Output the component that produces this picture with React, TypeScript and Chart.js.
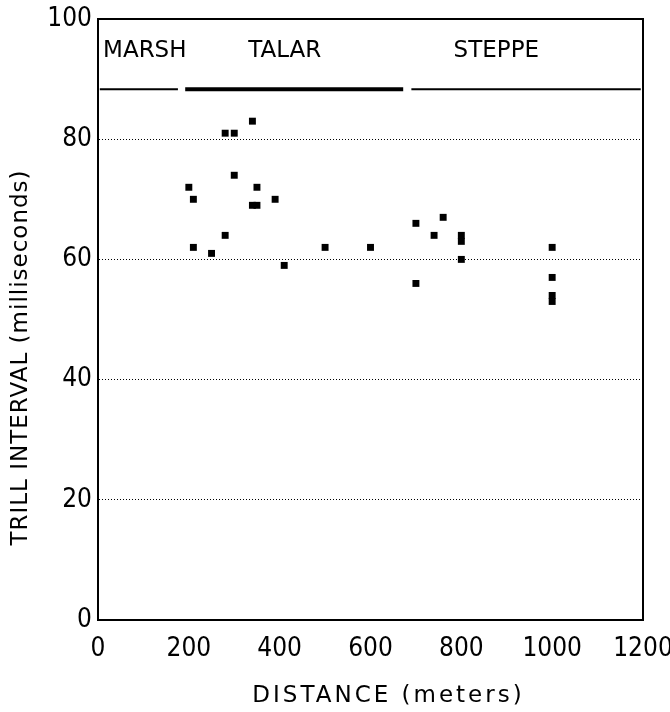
import React, { useEffect, useRef } from "react";
import { Chart, registerables } from "chart.js";

Chart.register(...registerables);

// Data
const distance = [200, 210, 210, 250, 280, 280, 300, 300, 340, 340, 350, 350, 390, 410, 500, 600, 700, 700, 740, 760, 800, 800, 800, 1000, 1000, 1000, 1000];
const trillInterval = [72, 70, 62, 61, 81, 64, 81, 74, 83, 69, 72, 69, 70, 59, 62, 62, 66, 56, 64, 67, 64, 63, 60, 62, 57, 54, 53];

const habitatNames = ["MARSH", "TALAR", "STEPPE"];
const habitatStart = [4, 192, 690];
const habitatEnd = [176, 672, 1195];
const habitatLabelX = [103, 411, 877];
const habitatLineY = 88.3;
const habitatLabelY = 94.6;

const xTicks = [0, 200, 400, 600, 800, 1000, 1200];
const yTicks = [0, 20, 40, 60, 80, 100];

const xTitle = "DISTANCE (meters)";
const yTitle = "TRILL INTERVAL (milliseconds)";

const FONT = "'DejaVu Sans', sans-serif";
const NUM_FONT = "'DejaVu Sans Condensed', 'DejaVu Sans', sans-serif";

const framePlugin = {
  id: "frame",
  afterDraw(chart: any) {
    const { ctx, chartArea: a, scales } = chart;
    ctx.save();
    ctx.strokeStyle = "#000";
    ctx.lineWidth = 2;
    ctx.strokeRect(a.left, a.top, a.right - a.left, a.bottom - a.top);
    // habitat labels
    ctx.fillStyle = "#000";
    ctx.font = `23px ${FONT}`;
    ctx.textAlign = "center";
    ctx.textBaseline = "middle";
    habitatNames.forEach((n, i) => {
      ctx.fillText(n, scales.x.getPixelForValue(habitatLabelX[i]), scales.y.getPixelForValue(habitatLabelY));
    });
    // x title
    ctx.font = `23px ${FONT}`;
    (ctx as any).letterSpacing = "3px";
    ctx.textBaseline = "alphabetic";
    ctx.fillText(xTitle, (a.left + a.right) / 2 + 18, a.bottom + 82);
    // y title
    (ctx as any).letterSpacing = "1px";
    ctx.textBaseline = "middle";
    ctx.translate(21, (a.top + a.bottom) / 2 + 38);
    ctx.rotate(-Math.PI / 2);
    ctx.fillText(yTitle, 0, 0);
    ctx.restore();
  },
};

export default function App() {
  const ref = useRef<HTMLCanvasElement>(null);
  useEffect(() => {
    if (!ref.current) return;
    const habitatSets = habitatNames.map((n, i) => ({
      type: "line" as const,
      label: n,
      data: [
        { x: habitatStart[i], y: habitatLineY },
        { x: habitatEnd[i], y: habitatLineY },
      ],
      borderColor: "#000",
      borderWidth: i === 1 ? 4 : 2,
      pointRadius: 0,
      showLine: true,
    }));
    const chart = new Chart(ref.current, {
      type: "scatter",
      data: {
        datasets: [
          {
            label: "Trill interval",
            data: distance.map((d, i) => ({ x: d, y: trillInterval[i] })),
            backgroundColor: "#000",
            borderColor: "#000",
            pointStyle: "rect",
            pointRadius: 4.9,
            borderWidth: 0,
          },
          ...habitatSets,
        ] as any,
      },
      options: {
        animation: false,
        responsive: true,
        maintainAspectRatio: false,
        layout: { padding: { top: 19, right: 27, left: 0, bottom: 0 } },
        plugins: { legend: { display: false }, tooltip: { enabled: false } },
        scales: {
          x: {
            type: "linear",
            min: 0,
            max: 1200,
            afterBuildTicks: (s: any) => {
              s.ticks = xTicks.map((v) => ({ value: v }));
            },
            afterFit: (s: any) => {
              s.height = 92;
              s.paddingRight = 0;
              s.paddingLeft = 0;
            },
            grid: { display: false, drawTicks: false },
            border: { display: true, color: "#000", width: 2 },
            ticks: {
              color: "#000",
              font: { family: NUM_FONT, size: 26 },
              padding: 14,
              maxRotation: 0,
              callback: (v: any) => String(v),
            },
          },
          y: {
            type: "linear",
            min: 0,
            max: 100,
            afterBuildTicks: (s: any) => {
              s.ticks = yTicks.map((v) => ({ value: v }));
            },
            afterFit: (s: any) => {
              s.width = 98;
              s.paddingTop = 0;
              s.paddingBottom = 0;
            },
            grid: {
              display: true,
              color: "#000",
              lineWidth: 1,
              drawTicks: false,
            },
            border: { display: true, color: "#000", width: 2, dash: [1, 2] },
            ticks: {
              color: "#000",
              font: { family: NUM_FONT, size: 26 },
              padding: 6,
              callback: (v: any) => String(v),
            },
          },
        },
      },
      plugins: [framePlugin],
    } as any);
    return () => chart.destroy();
  }, []);
  return (
    <div style={{ position: "fixed", left: 0, top: 0, width: 670, height: 712, background: "#fff" }}>
      <canvas ref={ref} />
    </div>
  );
}
